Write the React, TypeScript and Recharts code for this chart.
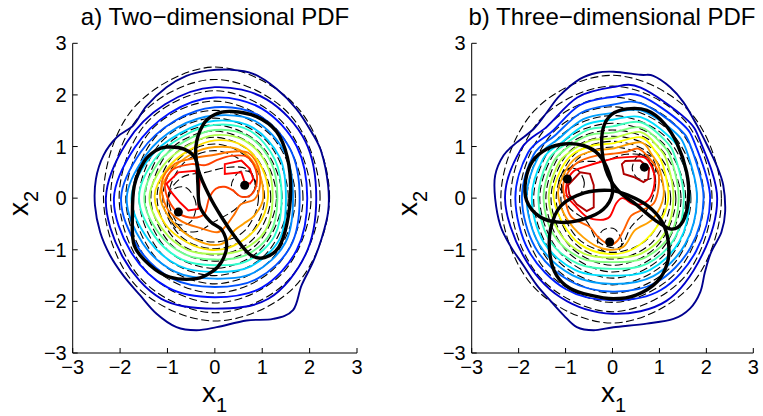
import { ComposedChart, Line, Scatter, XAxis, YAxis } from "recharts"

type Pt = [number, number]
interface Contour {
  level: number
  pts: Pt[]
}

const axisTicks = [-3, -2, -1, 0, 1, 2, 3]

// ---- a) two-dimensional PDF ----
const twoDimColours = [
  "#00008f", "#0000cc", "#0010ff", "#0050ff", "#0090ff", "#00cfff", "#30ffcf",
  "#70ff8f", "#b0ff4f", "#ffe000", "#ffa000", "#ff7000", "#ff4000", "#ff0000",
]

// estimated (empirical) density contours, outermost first
const twoDimContours: Contour[] = [
  { level: 0, pts: [[2.39, 0.25], [2.25, 0.89], [2.04, 1.28], [1.72, 1.73], [1.3, 2.12], [0.81, 2.41], [0.32, 2.49], [-0.15, 2.47], [-0.6, 2.37], [-1.02, 2.15], [-1.44, 1.79], [-1.72, 1.41], [-2.07, 1.18], [-2.35, 0.83], [-2.51, 0.37], [-2.53, -0.14], [-2.42, -0.66], [-2.21, -1.11], [-1.93, -1.5], [-1.58, -1.88], [-1.23, -2.24], [-0.81, -2.5], [-0.39, -2.56], [0.04, -2.5], [0.67, -2.37], [1.23, -2.34], [1.65, -2.17], [1.83, -1.69], [2.07, -1.24], [2.25, -0.79], [2.39, -0.27]] },
  { level: 1, pts: [[2.14, 0], [1.91, 1.1], [1.1, 1.91], [0, 2.15], [-1.05, 1.82], [-1.86, 1.08], [-2.3, 0], [-1.95, -1.13], [-1.13, -1.95], [0, -2.14], [1.13, -1.95], [1.91, -1.1]] },
  { level: 2, pts: [[1.95, 0], [1.73, 1.0], [1.0, 1.73], [0, 1.95], [-0.95, 1.65], [-1.69, 0.98], [-2.13, 0], [-1.78, -1.03], [-1.0, -1.73], [0, -1.92], [1.0, -1.73], [1.73, -1.0]] },
  { level: 3, pts: [[1.79, 0], [1.6, 0.93], [0.93, 1.6], [0, 1.76], [-0.86, 1.49], [-1.56, 0.9], [-1.98, 0], [-1.63, -0.94], [-0.9, -1.56], [0, -1.72], [0.9, -1.56], [1.6, -0.93]] },
  { level: 4, pts: [[1.65, 0], [1.49, 0.86], [0.86, 1.49], [0, 1.6], [-0.79, 1.37], [-1.45, 0.84], [-1.86, 0], [-1.52, -0.88], [-0.83, -1.43], [0, -1.56], [0.83, -1.44], [1.49, -0.86]] },
  { level: 5, pts: [[1.5, 0], [1.37, 0.79], [0.79, 1.37], [0, 1.5], [-0.73, 1.26], [-1.37, 0.79], [-1.76, 0], [-1.4, -0.81], [-0.76, -1.31], [0, -1.43], [0.76, -1.32], [1.37, -0.79]] },
  { level: 6, pts: [[1.41, 0], [1.27, 0.74], [0.75, 1.3], [0, 1.42], [-0.69, 1.19], [-1.28, 0.74], [-1.6, 0], [-1.27, -0.74], [-0.69, -1.19], [0, -1.3], [0.7, -1.21], [1.26, -0.73]] },
  { level: 7, pts: [[1.32, 0], [1.19, 0.69], [0.7, 1.2], [0, 1.32], [-0.64, 1.1], [-1.19, 0.69], [-1.49, 0], [-1.18, -0.68], [-0.63, -1.09], [0, -1.19], [0.64, -1.11], [1.17, -0.68]] },
  { level: 8, pts: [[1.22, 0], [1.1, 0.64], [0.64, 1.11], [0, 1.22], [-0.59, 1.01], [-1.09, 0.63], [-1.38, 0], [-1.08, -0.63], [-0.58, -1.0], [0, -1.08], [0.58, -1.0], [1.07, -0.62]] },
  { level: 9, pts: [[1.12, 0], [1.0, 0.58], [0.58, 1.02], [0, 1.12], [-0.54, 0.93], [-1.0, 0.58], [-1.27, 0.05], [-1.05, -0.5], [-0.6, -0.85], [-0.1, -1.0], [0.4, -0.92], [0.9, -0.55]] },
  { level: 10, pts: [[1.02, 0], [0.92, 0.53], [0.53, 0.93], [0, 0.99], [-0.5, 0.85], [-0.93, 0.52], [-1.16, 0.08], [-0.98, -0.35], [-0.6, -0.7], [-0.2, -0.88], [0.1, -0.9], [0.28, -0.8], [0.42, -0.62], [0.6, -0.5], [0.85, -0.32]] },
  { level: 11, pts: [[-1.12, 0.31], [-0.85, 0.66], [-0.4, 0.78], [0, 0.84], [0.35, 0.9], [0.7, 0.88], [0.92, 0.6], [0.95, 0.24], [0.84, -0.02], [0.55, -0.12], [0.42, -0.3], [0.22, -0.55], [0.05, -0.66], [-0.3, -0.58], [-0.7, -0.45], [-1.02, -0.18]] },
  { level: 12, pts: [[-1.05, 0.28], [-0.88, 0.56], [-0.5, 0.66], [-0.2, 0.64], [0.05, 0.74], [0.35, 0.82], [0.68, 0.8], [0.86, 0.56], [0.88, 0.27], [0.76, 0.06], [0.55, 0.03], [0.38, 0.15], [0.2, 0.22], [0.02, 0.18], [-0.12, 0.0], [-0.22, -0.3], [-0.45, -0.38], [-0.75, -0.3], [-0.97, -0.05]] },
  { level: 13, pts: [[-1.02, 0.28], [-0.77, 0.5], [-0.42, 0.53], [-0.32, 0.37], [-0.35, -0.21], [-0.56, -0.24], [-0.74, -0.08], [-0.95, 0.15]] },
  { level: 13, pts: [[0.21, 0.66], [0.56, 0.73], [0.74, 0.57], [0.81, 0.37], [0.74, 0.28], [0.63, 0.31], [0.56, 0.5], [0.21, 0.47]] },
]

// model density contours (dashed)
const twoDimModel: Pt[][] = [
  [[2.42, 0], [1.75, 1.75], [0, 2.54], [-1.73, 1.73], [-2.35, 0], [-1.68, -1.68], [0, -2.38], [1.7, -1.7]],
  [[2.22, 0], [1.6, 1.6], [0, 2.3], [-1.59, 1.59], [-2.2, 0], [-1.56, -1.56], [0, -2.22], [1.57, -1.57]],
  [[2.03, 0], [1.45, 1.45], [0, 2.08], [-1.45, 1.45], [-2.02, 0], [-1.43, -1.43], [0, -2.03], [1.44, -1.44]],
  [[1.86, 0], [1.32, 1.32], [0, 1.88], [-1.33, 1.33], [-1.88, 0], [-1.32, -1.32], [0, -1.84], [1.31, -1.31]],
  [[1.7, 0], [1.2, 1.2], [0, 1.7], [-1.22, 1.22], [-1.74, 0], [-1.2, -1.2], [0, -1.66], [1.19, -1.19]],
  [[1.55, 0], [1.1, 1.1], [0, 1.55], [-1.11, 1.11], [-1.6, 0], [-1.1, -1.1], [0, -1.5], [1.08, -1.08]],
  [[1.42, 0], [1.0, 1.0], [0, 1.42], [-1.02, 1.02], [-1.47, 0], [-1.0, -1.0], [0, -1.36], [0.98, -0.98]],
  [[1.3, 0], [0.92, 0.92], [0, 1.3], [-0.94, 0.94], [-1.35, 0], [-0.91, -0.91], [0, -1.22], [0.89, -0.89]],
  [[1.18, 0], [0.83, 0.83], [0, 1.18], [-0.85, 0.85], [-1.22, 0], [-0.82, -0.82], [0, -1.1], [0.8, -0.8]],
  [[1.05, 0], [0.74, 0.74], [0, 1.05], [-0.76, 0.76], [-1.1, 0], [-0.73, -0.73], [0, -0.98], [0.72, -0.72]],
  [[0.92, 0], [0.65, 0.65], [0, 0.92], [-0.67, 0.67], [-0.98, 0], [-0.65, -0.65], [0, -0.85], [0.63, -0.63]],
  [[0.85, 0.2], [0.7, 0.55], [0.3, 0.6], [-0.2, 0.5], [-0.7, 0.4], [-1.0, 0.0], [-0.85, -0.55], [-0.4, -0.65], [0.0, -0.45], [0.45, -0.2]],
  [[-0.4, -0.1], [-0.6, 0.2], [-0.9, 0.15], [-1.0, -0.2], [-0.8, -0.5], [-0.5, -0.45]],
  [[0.85, 0.25], [0.75, 0.5], [0.5, 0.5], [0.35, 0.25], [0.5, 0.05], [0.75, 0.05]],
]

const twoDimEllipses: Pt[][] = [
  [[0.35, 1.68], [0.88, 1.58], [1.3, 1.29], [1.53, 0.79], [1.6, 0.14], [1.52, -0.5], [1.35, -0.95], [1.05, -1.15], [0.75, -1.1], [0.45, -0.78], [0.15, -0.38], [-0.12, 0.05], [-0.35, 0.55], [-0.4, 1.0], [-0.25, 1.42], [0.0, 1.62]],
  [[-1.02, 0.99], [-0.65, 0.95], [-0.4, 0.75], [-0.36, 0.3], [-0.32, -0.15], [-0.1, -0.45], [0.15, -0.62], [0.25, -0.92], [0.15, -1.22], [-0.05, -1.42], [-0.39, -1.56], [-0.95, -1.53], [-1.37, -1.3], [-1.7, -0.92], [-1.74, -0.34], [-1.7, 0.24], [-1.5, 0.7], [-1.25, 0.92]],
]

const twoDimMeans: Pt[] = [[-0.77, -0.27], [0.63, 0.25]]

// ---- b) three-dimensional PDF ----
const threeDimColours = [
  "#00008f", "#0000cc", "#0020ff", "#0060ff", "#00a0ff", "#00e0ff", "#40ffbf",
  "#80ff80", "#bfff40", "#ffff00", "#ffa000", "#ff6000", "#ff0000", "#b00000",
]

const threeDimContours: Contour[] = [
  { level: 0, pts: [[0.02, 2.45], [0.59, 2.39], [0.87, 2.37], [1.23, 2.15], [1.51, 1.86], [1.8, 1.41], [2.02, 1.02], [2.22, 0.63], [2.36, 0.25], [2.4, -0.27], [2.32, -0.66], [2.1, -1.05], [1.97, -1.43], [1.87, -1.82], [1.65, -2.14], [1.3, -2.34], [0.73, -2.43], [0.02, -2.5], [-0.4, -2.56], [-0.76, -2.5], [-1.04, -2.27], [-1.33, -1.98], [-1.61, -1.69], [-1.9, -1.3], [-2.18, -0.92], [-2.39, -0.53], [-2.5, -0.01], [-2.5, 0.44], [-2.32, 0.83], [-2.04, 1.08], [-1.68, 1.34], [-1.4, 1.66], [-1.12, 1.99], [-0.69, 2.31], [-0.33, 2.43]] },
  { level: 1, pts: [[2.23, 0], [1.88, 1.08], [1.55, 1.55], [0.6, 2.14], [0, 2.15], [-0.75, 1.95], [-1.39, 1.39], [-1.95, 0.95], [-2.29, 0], [-1.91, -1.1], [-1.11, -1.92], [0, -2.24], [1.15, -1.99], [1.91, -1.1]] },
  { level: 2, pts: [[2.08, 0], [1.77, 1.02], [1.46, 1.46], [0.6, 1.98], [0, 1.96], [-0.7, 1.8], [-1.29, 1.29], [-1.8, 0.88], [-2.07, 0], [-1.78, -1.03], [-1.0, -1.76], [0, -1.98], [1.03, -1.78], [1.78, -1.03]] },
  { level: 3, pts: [[1.94, 0], [1.68, 0.97], [1.38, 1.38], [0.6, 1.84], [0, 1.81], [-0.66, 1.66], [-1.22, 1.22], [-1.68, 0.84], [-1.93, 0], [-1.65, -0.95], [-0.92, -1.6], [0, -1.81], [0.94, -1.63], [1.66, -0.96]] },
  { level: 4, pts: [[1.8, 0], [1.58, 0.91], [1.3, 1.3], [0.6, 1.7], [0, 1.65], [-0.62, 1.53], [-1.15, 1.15], [-1.58, 0.8], [-1.83, 0], [-1.56, -0.9], [-0.86, -1.49], [0, -1.66], [0.87, -1.51], [1.55, -0.89]] },
  { level: 5, pts: [[1.64, 0], [1.46, 0.84], [1.2, 1.2], [0.6, 1.57], [0, 1.52], [-0.58, 1.42], [-1.08, 1.08], [-1.48, 0.76], [-1.72, 0], [-1.47, -0.85], [-0.8, -1.39], [0, -1.5], [0.8, -1.39], [1.43, -0.83]] },
  { level: 6, pts: [[1.52, 0], [1.34, 0.78], [1.12, 1.12], [0.6, 1.47], [0, 1.39], [-0.54, 1.32], [-1.03, 1.03], [-1.38, 0.72], [-1.58, 0], [-1.36, -0.79], [-0.74, -1.27], [0, -1.37], [0.74, -1.27], [1.33, -0.77]] },
  { level: 7, pts: [[1.41, 0], [1.26, 0.73], [1.05, 1.05], [0.6, 1.37], [0, 1.27], [-0.5, 1.22], [-0.97, 0.97], [-1.28, 0.67], [-1.47, 0], [-1.25, -0.72], [-0.67, -1.16], [0, -1.24], [0.67, -1.16], [1.23, -0.71]] },
  { level: 8, pts: [[1.3, 0], [1.17, 0.68], [0.98, 0.98], [0.6, 1.28], [0, 1.16], [-0.46, 1.12], [-0.9, 0.9], [-1.18, 0.62], [-1.36, 0], [-1.14, -0.66], [-0.62, -1.07], [0, -1.15], [0.62, -1.07], [1.13, -0.65]] },
  { level: 9, pts: [[1.19, 0], [1.08, 0.63], [0.91, 0.91], [0.6, 1.18], [0, 1.06], [-0.42, 1.02], [-0.85, 0.85], [-1.1, 0.55], [-1.26, 0.08], [-1.08, -0.45], [-0.68, -0.9], [-0.1, -1.08], [0.45, -0.98], [0.95, -0.55]] },
  { level: 10, pts: [[1.09, 0.05], [1.0, 0.58], [0.84, 0.84], [0.6, 1.08], [0, 0.96], [-0.4, 0.92], [-0.78, 0.78], [-1.02, 0.5], [-1.16, 0.1], [-1.0, -0.36], [-0.62, -0.76], [-0.2, -0.98], [0.22, -0.95], [0.48, -0.62], [0.86, -0.4]] },
  { level: 11, pts: [[0.98, 0.2], [0.97, 0.52], [0.78, 0.78], [0.55, 0.96], [0.3, 0.9], [0, 0.86], [-0.36, 0.82], [-0.71, 0.71], [-0.93, 0.52], [-1.05, 0.25], [-0.98, -0.14], [-0.86, -0.38], [-0.5, -0.55], [-0.3, -0.76], [-0.06, -0.9], [0.1, -0.83], [0.24, -0.62], [0.4, -0.34], [0.66, -0.22], [0.88, -0.1]] },
  { level: 12, pts: [[0.9, 0.35], [0.84, 0.6], [0.68, 0.79], [0.4, 0.8], [0.1, 0.78], [-0.26, 0.7], [-0.55, 0.62], [-0.83, 0.52], [-0.97, 0.3], [-0.97, 0.05], [-0.8, -0.14], [-0.55, -0.36], [-0.26, -0.42], [-0.06, -0.36], [0.08, -0.1], [0.22, 0.0], [0.45, -0.12], [0.66, -0.1], [0.82, 0.04]] },
  { level: 13, pts: [[-0.95, 0.25], [-0.69, 0.5], [-0.48, 0.47], [-0.4, 0.25], [-0.4, -0.18], [-0.55, -0.25], [-0.76, -0.12], [-0.92, 0.07]] },
  { level: 13, pts: [[0.2, 0.66], [0.27, 0.72], [0.59, 0.73], [0.78, 0.58], [0.76, 0.37], [0.66, 0.31], [0.45, 0.41], [0.24, 0.47]] },
]

const threeDimModel: Pt[][] = [
  [[2.32, 0], [1.66, 1.66], [0, 2.38], [-1.68, 1.68], [-2.38, 0], [-1.7, -1.7], [0, -2.42], [1.68, -1.68]],
  [[2.12, 0], [1.52, 1.52], [0, 2.17], [-1.53, 1.53], [-2.17, 0], [-1.54, -1.54], [0, -2.2], [1.53, -1.53]],
  [[1.95, 0], [1.38, 1.38], [0, 1.96], [-1.39, 1.39], [-1.98, 0], [-1.41, -1.41], [0, -2.02], [1.4, -1.4]],
  [[1.8, 0], [1.26, 1.26], [0, 1.77], [-1.27, 1.27], [-1.82, 0], [-1.29, -1.29], [0, -1.84], [1.29, -1.29]],
  [[1.67, 0], [1.16, 1.16], [0, 1.6], [-1.16, 1.16], [-1.68, 0], [-1.19, -1.19], [0, -1.68], [1.19, -1.19]],
  [[1.56, 0], [1.07, 1.07], [0, 1.45], [-1.07, 1.07], [-1.55, 0], [-1.09, -1.09], [0, -1.55], [1.1, -1.1]],
  [[1.46, 0], [0.99, 0.99], [0, 1.32], [-0.99, 0.99], [-1.42, 0], [-1.0, -1.0], [0, -1.43], [1.02, -1.02]],
  [[1.35, 0], [0.91, 0.91], [0, 1.2], [-0.91, 0.91], [-1.31, 0], [-0.92, -0.92], [0, -1.3], [0.94, -0.94]],
  [[1.24, 0], [0.83, 0.83], [0, 1.1], [-0.83, 0.83], [-1.2, 0], [-0.84, -0.84], [0, -1.18], [0.85, -0.85]],
  [[1.13, 0], [0.75, 0.75], [0, 0.99], [-0.75, 0.75], [-1.1, 0], [-0.76, -0.76], [0, -1.05], [0.77, -0.77]],
  [[0.92, 0.3], [0.75, 0.78], [0.3, 0.85], [-0.2, 0.72], [-0.75, 0.68], [-1.08, 0.35], [-0.95, -0.15], [-0.55, -0.45], [-0.3, -0.85], [0.15, -0.95], [0.4, -0.55], [0.75, -0.2]],
  [[-0.6, 0.3], [-0.75, 0.55], [-1.0, 0.55], [-1.15, 0.3], [-1.0, 0.05], [-0.72, 0.05]],
  [[0.92, 0.6], [0.8, 0.82], [0.55, 0.82], [0.42, 0.58], [0.55, 0.38], [0.82, 0.38]],
  [[0.2, -0.85], [0.05, -0.6], [-0.2, -0.62], [-0.32, -0.85], [-0.15, -1.05], [0.1, -1.05]],
]

const threeDimEllipses: Pt[][] = [
  [[-1.04, 1.05], [-0.62, 1.02], [-0.3, 0.85], [-0.08, 0.5], [0.0, 0.1], [-0.2, -0.22], [-0.6, -0.4], [-1.1, -0.47], [-1.55, -0.36], [-1.83, -0.05], [-1.85, 0.35], [-1.7, 0.72], [-1.4, 0.95]],
  [[0.31, 1.73], [0.73, 1.7], [1.1, 1.45], [1.38, 1.05], [1.58, 0.5], [1.62, 0.0], [1.5, -0.45], [1.25, -0.6], [0.9, -0.42], [0.5, -0.12], [0.15, 0.12], [-0.1, 0.45], [-0.22, 0.9], [-0.2, 1.35], [-0.02, 1.62]],
  [[-0.05, 0.15], [0.35, 0.05], [0.75, -0.15], [1.05, -0.45], [1.19, -0.85], [1.17, -1.25], [0.95, -1.62], [0.5, -1.88], [0.02, -1.95], [-0.48, -1.88], [-0.9, -1.75], [-1.19, -1.5], [-1.33, -1.11], [-1.32, -0.6], [-1.1, -0.15], [-0.6, 0.1]],
]

const threeDimMeans: Pt[] = [[-0.96, 0.37], [0.68, 0.6], [-0.06, -0.85]]

const FONT = "'Liberation Sans', Arial, Helvetica, sans-serif"

// closed catmull-rom curve, so contours come out round like the matlab ones
function closedSpline(context: any) {
  let pts: number[][] = []
  return {
    areaStart() {},
    areaEnd() {},
    lineStart() {
      pts = []
    },
    point(x: number, y: number) {
      pts.push([+x, +y])
    },
    lineEnd() {
      const n = pts.length
      if (!n) return
      context.moveTo(pts[0][0], pts[0][1])
      for (let i = 0; i < n; i++) {
        const p0 = pts[(i - 1 + n) % n]
        const p1 = pts[i]
        const p2 = pts[(i + 1) % n]
        const p3 = pts[(i + 2) % n]
        context.bezierCurveTo(
          p1[0] + (p2[0] - p0[0]) / 6,
          p1[1] + (p2[1] - p0[1]) / 6,
          p2[0] - (p3[0] - p1[0]) / 6,
          p2[1] - (p3[1] - p1[1]) / 6,
          p2[0],
          p2[1]
        )
      }
      context.closePath()
    },
  }
}

const toRows = (pts: Pt[]) => pts.map(([x, y]) => ({ x, y }))
const fmtTick = (v: number) => (v < 0 ? `\u2212${-v}` : String(v))

interface PanelProps {
  left: number
  width: number
  marginLeft: number
  marginRight: number
  colours: string[]
  contours: Contour[]
  model: Pt[][]
  ellipses: Pt[][]
  means: Pt[]
}

function Panel({ left, width, marginLeft, marginRight, colours, contours, model, ellipses, means }: PanelProps) {
  const tick = { fill: "#000", fontSize: 20, fontFamily: FONT }
  return (
    <div style={{ position: "absolute", left, top: 0 }}>
      <ComposedChart
        width={width}
        height={416}
        margin={{ top: 43.3, right: marginRight, bottom: 23, left: marginLeft }}
      >
        <XAxis
          type="number"
          dataKey="x"
          domain={[-3, 3]}
          ticks={axisTicks}
          interval={0}
          allowDataOverflow
          height={40}
          stroke="#000"
          tickSize={-5}
          tickMargin={12}
          tick={tick}
          tickFormatter={fmtTick}
        />
        <YAxis
          type="number"
          dataKey="y"
          domain={[-3, 3]}
          ticks={axisTicks}
          interval={0}
          allowDataOverflow
          width={60}
          stroke="#000"
          tickSize={-5}
          tickMargin={11}
          tick={tick}
          tickFormatter={fmtTick}
        />
        {model.map((pts, i) => (
          <Line
            key={`m${i}`}
            data={toRows(pts)}
            dataKey="y"
            type={closedSpline as any}
            stroke="#000"
            strokeWidth={1.1}
            strokeDasharray="8 3.5"
            dot={false}
            activeDot={false}
            isAnimationActive={false}
          />
        ))}
        {contours.map((c, i) => (
          <Line
            key={`c${i}`}
            data={toRows(c.pts)}
            dataKey="y"
            type={c.level === colours.length - 1 ? "linearClosed" : (closedSpline as any)}
            stroke={colours[c.level]}
            strokeWidth={1.9}
            dot={false}
            activeDot={false}
            isAnimationActive={false}
          />
        ))}
        {ellipses.map((pts, i) => (
          <Line
            key={`e${i}`}
            data={toRows(pts)}
            dataKey="y"
            type={closedSpline as any}
            stroke="#000"
            strokeWidth={3.4}
            dot={false}
            activeDot={false}
            isAnimationActive={false}
          />
        ))}
        <Scatter
          data={toRows(means)}
          dataKey="y"
          isAnimationActive={false}
          shape={(p: any) => <circle cx={p.cx} cy={p.cy} r={4.5} fill="#000" />}
        />
      </ComposedChart>
    </div>
  )
}

export default function App() {
  return (
    <div
      style={{
        position: "absolute",
        left: 0,
        top: 0,
        width: 763,
        height: 416,
        background: "#fff",
        fontFamily: FONT,
      }}
    >
      <Panel
        left={0}
        width={380}
        marginLeft={12.7}
        marginRight={23}
        colours={twoDimColours}
        contours={twoDimContours}
        model={twoDimModel}
        ellipses={twoDimEllipses}
        means={twoDimMeans}
      />
      <Panel
        left={380}
        width={383}
        marginLeft={31.7}
        marginRight={9.7}
        colours={threeDimColours}
        contours={threeDimContours}
        model={threeDimModel}
        ellipses={threeDimEllipses}
        means={threeDimMeans}
      />
      <svg
        width={763}
        height={416}
        style={{ position: "absolute", left: 0, top: 0, pointerEvents: "none" }}
        fontFamily={FONT}
        fill="#000"
      >
        <text x={215} y={25} textAnchor="middle" fontSize={24}>
          a) Two−dimensional PDF
        </text>
        <text x={612} y={25} textAnchor="middle" fontSize={24}>
          b) Three−dimensional PDF
        </text>
        <text x={202} y={402} fontSize={28}>
          x<tspan dy={10} fontSize={20}>1</tspan>
        </text>
        <text x={601} y={402} fontSize={28}>
          x<tspan dy={10} fontSize={20}>1</tspan>
        </text>
        <text transform="translate(28,216) rotate(-90)" fontSize={28}>
          x<tspan dy={10} fontSize={20}>2</tspan>
        </text>
        <text transform="translate(417,216) rotate(-90)" fontSize={28}>
          x<tspan dy={10} fontSize={20}>2</tspan>
        </text>
      </svg>
    </div>
  )
}
